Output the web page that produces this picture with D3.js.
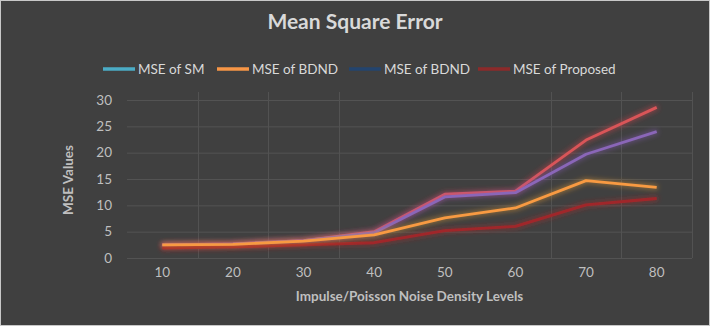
<!DOCTYPE html>
<html><head><meta charset="utf-8">
<script src="https://cdn.jsdelivr.net/npm/d3@7"></script>
<style>html,body{margin:0;padding:0;background:#fff;}svg{display:block;}</style>
</head><body>
<script>
const categories = [10, 20, 30, 40, 50, 60, 70, 80];
const seriesNames = ["MSE of SM", "MSE of BDND", "MSE of BDND", "MSE of Proposed"];
const mseSM = [2.5, 2.7, 3.3, 5.0, 12.1, 12.7, 22.4, 28.6];
const mseBDND1 = [2.5, 2.6, 3.2, 4.4, 7.6, 9.5, 14.7, 13.4];
const mseBDND2 = [2.5, 2.7, 3.3, 4.8, 11.6, 12.4, 19.7, 24.0];
const mseProposed = [1.9, 2.1, 2.5, 2.9, 5.2, 6.0, 10.1, 11.3];
const yTicks = [0, 5, 10, 15, 20, 25, 30];

const W = 710, H = 326;
const font = "Lato, 'Open Sans', sans-serif";
const svg = d3.select("body").append("svg").attr("width", W).attr("height", H);
svg.append("rect").attr("x", 0.5).attr("y", 0.5).attr("width", W - 1).attr("height", H - 1)
  .attr("fill", "#404040").attr("stroke", "#c8c8c8");

const plot = {l: 127, r: 692, t: 100, b: 258};
const x = d3.scaleBand().domain(categories).range([plot.l, plot.r]);
const y = d3.scaleLinear().domain([0, 30]).range([plot.b, plot.t]);

// glow filters
const defs = svg.append("defs");
function glow(id, color) {
  const f = defs.append("filter").attr("id", id).attr("x", "-20%").attr("y", "-50%").attr("width", "140%").attr("height", "200%");
  f.append("feMorphology").attr("in", "SourceAlpha").attr("operator", "dilate").attr("radius", 1).attr("result", "d");
  f.append("feGaussianBlur").attr("in", "d").attr("stdDeviation", 2.5).attr("result", "b");
  f.append("feFlood").attr("flood-color", color).attr("flood-opacity", 0.45).attr("result", "c");
  f.append("feComposite").attr("in", "c").attr("in2", "b").attr("operator", "in").attr("result", "g");
  const m = f.append("feMerge");
  m.append("feMergeNode").attr("in", "g");
  m.append("feMergeNode").attr("in", "SourceGraphic");
}
glow("gRed", "#e0404a");
glow("gPurple", "#8a5cc0");
glow("gOrange", "#f0a030");
glow("gDark", "#c02828");

// gridlines
const grid = svg.append("g");
grid.selectAll("line.h").data(yTicks).join("line")
  .attr("x1", plot.l).attr("x2", plot.r).attr("y1", d => y(d) + 0.5).attr("y2", d => y(d) + 0.5)
  .attr("stroke", "#535353").attr("stroke-width", 1);
const bounds = categories.map(c => x(c)).concat([plot.r]);
const visibleBounds = bounds.filter((d, i) => [1, 2, 3, 6, 7, 8].includes(i));
grid.selectAll("line.v").data(visibleBounds).join("line")
  .attr("x1", d => Math.round(d) + 0.5).attr("x2", d => Math.round(d) + 0.5).attr("y1", plot.t - 8).attr("y2", plot.b)
  .attr("stroke", "#525252").attr("stroke-width", 1);

// axes
const yAxis = svg.append("g").attr("transform", `translate(${plot.l - 8},0)`)
  .call(d3.axisLeft(y).tickValues(yTicks).tickSize(0).tickPadding(7));
yAxis.select(".domain").remove();
yAxis.selectAll("text").attr("fill", "#bfbfbf").attr("font-size", 13.5).attr("font-family", font);

const xAxis = svg.append("g").attr("transform", `translate(0,${plot.b + 6})`)
  .call(d3.axisBottom(x).tickSize(0).tickPadding(3));
xAxis.select(".domain").remove();
xAxis.selectAll("text").attr("fill", "#bfbfbf").attr("font-size", 13.5).attr("font-family", font);

// lines
const line = d3.line().x((d, i) => x(categories[i]) + x.bandwidth() / 2).y(d => y(d));
const draws = [
  {data: mseSM, color: "#d95558", f: "gRed"},
  {data: mseBDND2, color: "#8a66b8", f: "gPurple"},
  {data: mseProposed, color: "#a0282a", f: "gDark"},
  {data: mseBDND1, color: "#f89a42", f: "gOrange"}
];
svg.append("g").selectAll("path").data(draws).join("path")
  .attr("d", d => line(d.data)).attr("fill", "none").attr("stroke", d => d.color)
  .attr("stroke-width", 2.8).attr("stroke-linejoin", "round").attr("filter", d => `url(#${d.f})`);

// titles
svg.append("text").attr("x", 355).attr("y", 29).attr("text-anchor", "middle")
  .attr("font-family", font).attr("font-weight", "bold").attr("font-size", 21).attr("fill", "#d9d9d9")
  .text("Mean Square Error");
svg.append("text").attr("transform", "translate(73,180) rotate(-90)").attr("text-anchor", "middle")
  .attr("font-family", font).attr("font-weight", "bold").attr("font-size", 13.5).attr("fill", "#bfbfbf")
  .text("MSE Values");
svg.append("text").attr("x", (plot.l + plot.r) / 2).attr("y", 301).attr("text-anchor", "middle")
  .attr("font-family", font).attr("font-weight", "bold").attr("font-size", 13.5).attr("fill", "#bfbfbf")
  .text("Impulse/Poisson Noise Density Levels");

// legend
const legendColors = ["#4bacc6", "#f79646", "#23446e", "#8c2a2a"];
const legendX = [103, 217, 349, 478];
const lg = svg.append("g").selectAll("g").data(seriesNames).join("g")
  .attr("transform", (d, i) => `translate(${legendX[i]},69)`);
lg.append("line").attr("x1", 0).attr("x2", 32).attr("y1", 0).attr("y2", 0)
  .attr("stroke", (d, i) => legendColors[i]).attr("stroke-width", 3.5);
lg.append("text").attr("x", 35).attr("y", 4.5).attr("font-family", font).attr("font-size", 13.5)
  .attr("fill", "#d9d9d9").text(d => d);
</script>
</body></html>
